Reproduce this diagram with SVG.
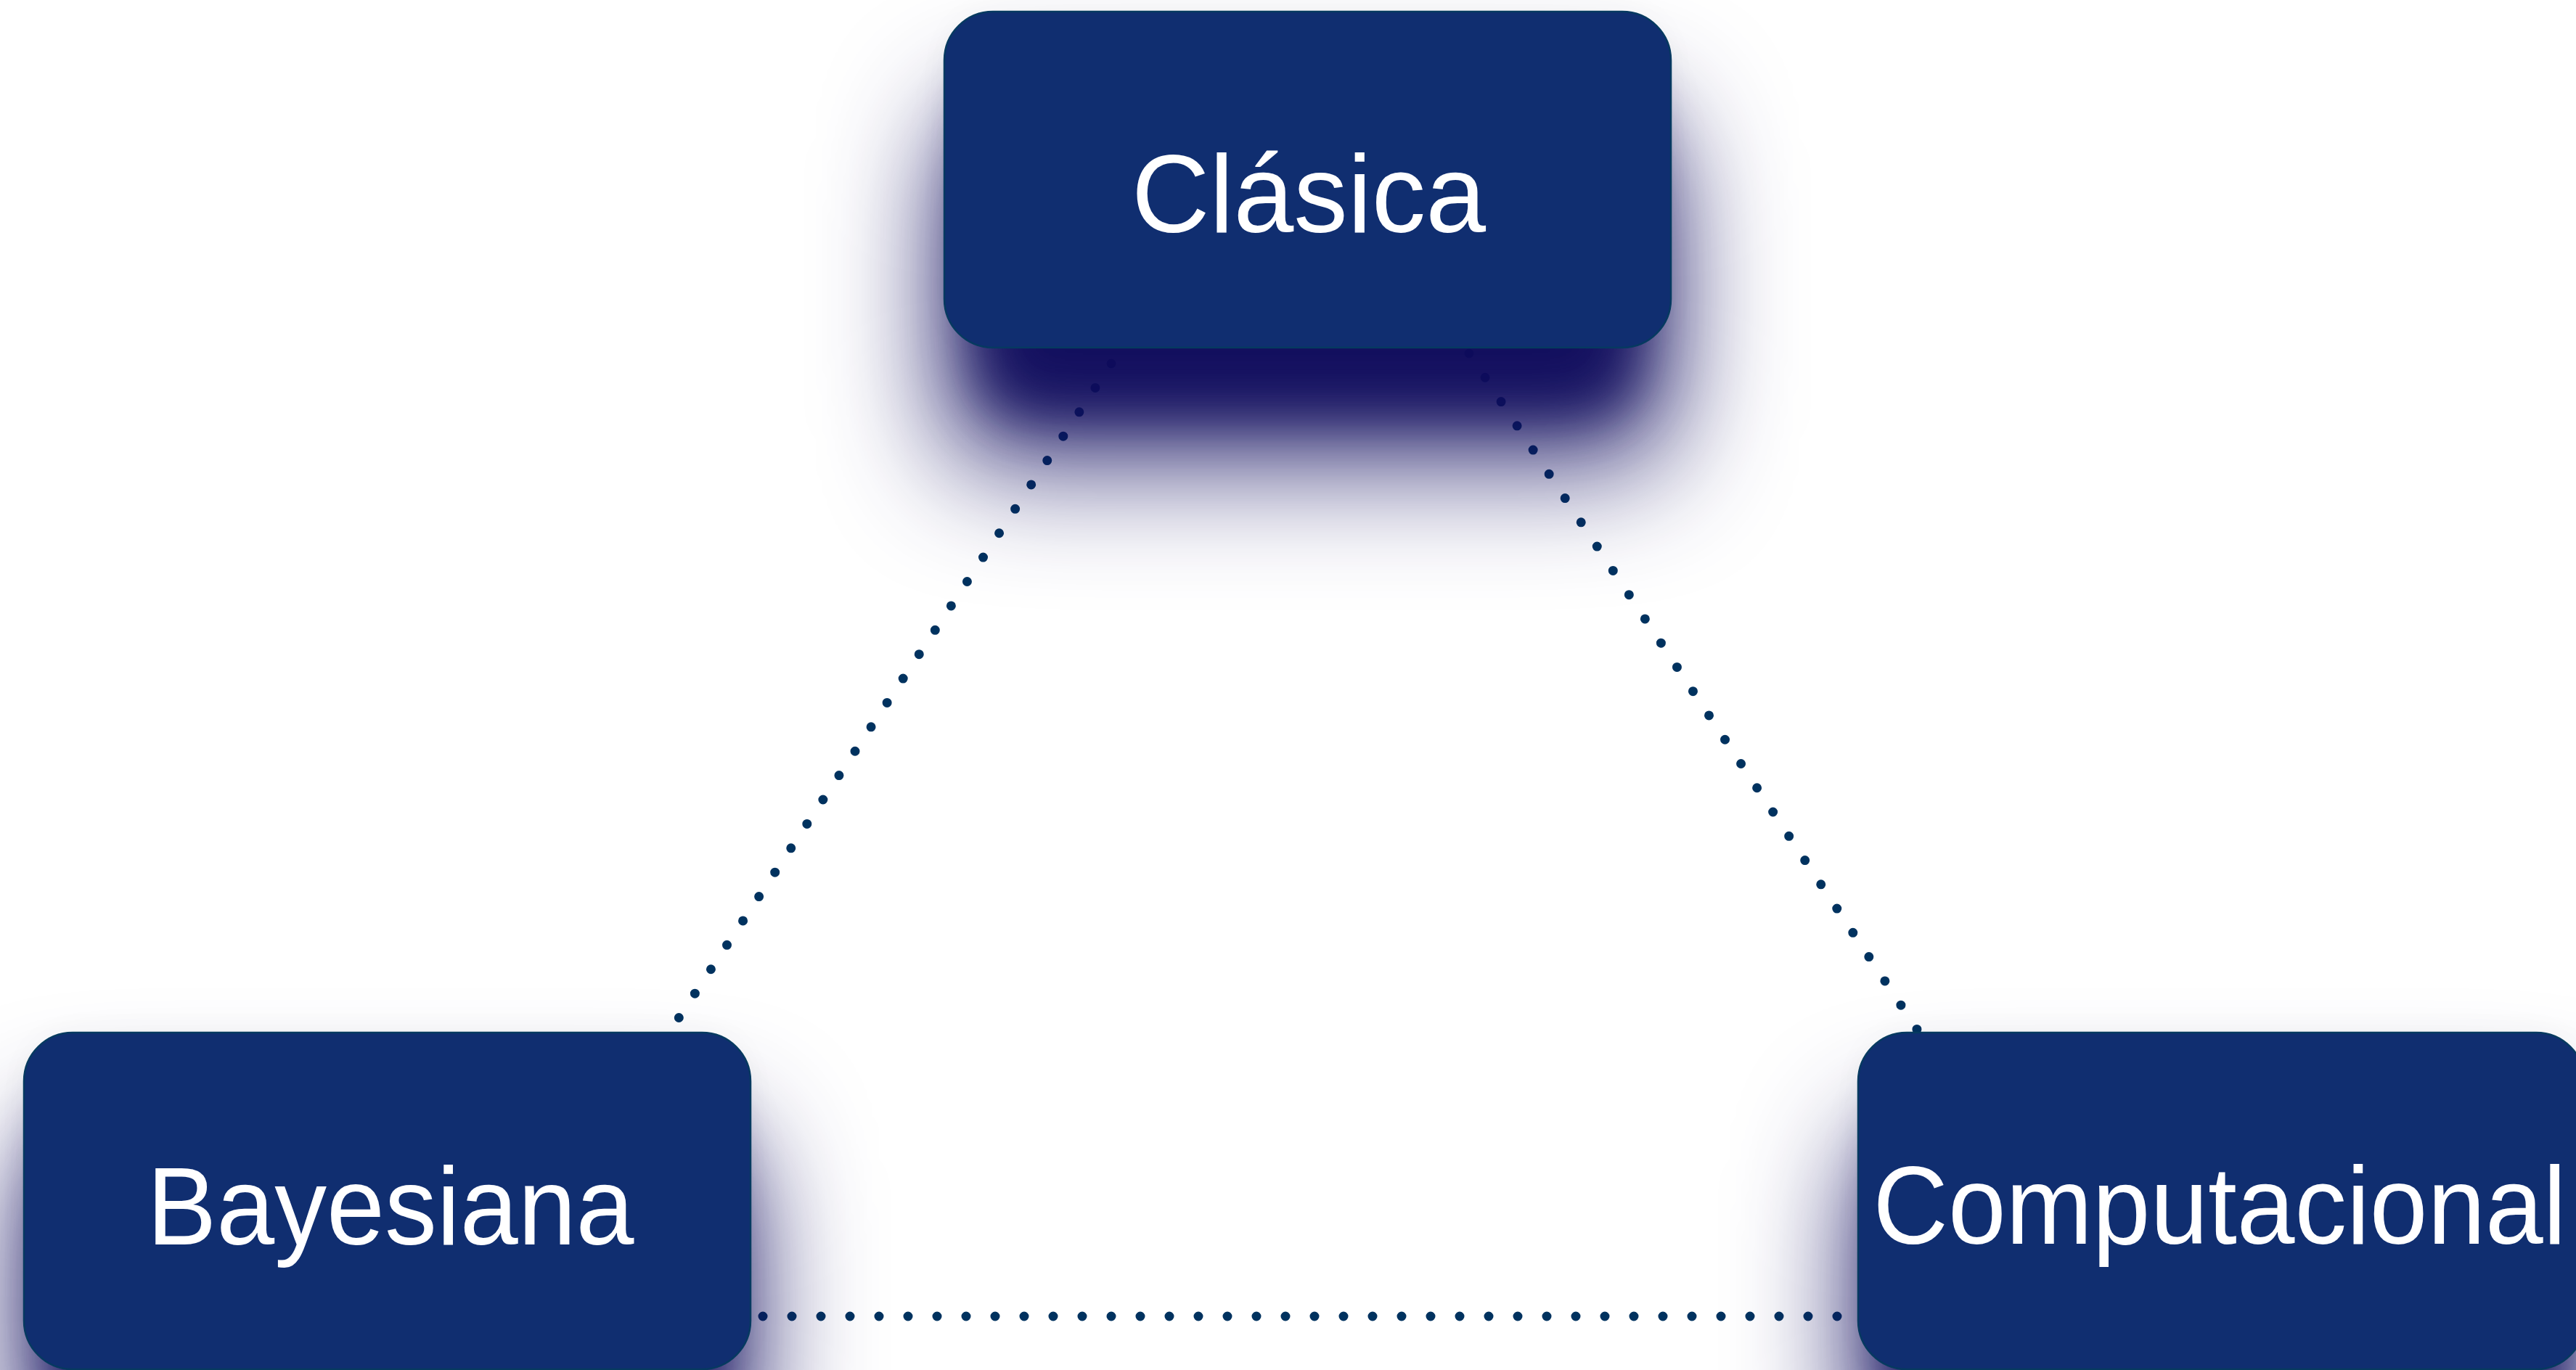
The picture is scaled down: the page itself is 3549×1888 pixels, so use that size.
<svg xmlns="http://www.w3.org/2000/svg" width="3549" height="1888" viewBox="0 0 3549 1888">
<style>
.box{fill:#102e70;stroke:#063a60;stroke-width:2.5;filter:url(#sh)}
.lbl{font-family:"Liberation Sans",Arial,sans-serif;font-size:152px;fill:#ffffff;text-anchor:middle}
.dot{fill:none;stroke:#00325f;stroke-width:13;stroke-linecap:round}
</style>
<defs>
<filter id="sh" x="-40%" y="-60%" width="180%" height="260%" color-interpolation-filters="sRGB">
<feGaussianBlur in="SourceAlpha" stdDeviation="80 88" result="b"/>
<feOffset in="b" dy="150" result="o"/>
<feFlood flood-color="#0e0b5c" flood-opacity="0.9" result="f"/>
<feComposite in="f" in2="o" operator="in" result="s"/>
<feMorphology in="SourceAlpha" operator="erode" radius="50 1" result="e"/>
<feGaussianBlur in="e" stdDeviation="40" result="eb"/>
<feOffset in="eb" dy="90" result="eo"/>
<feFlood flood-color="#0e0b5c" flood-opacity="0.85" result="f3"/>
<feComposite in="f3" in2="eo" operator="in" result="core"/>
<feGaussianBlur in="SourceAlpha" stdDeviation="25" result="a"/>
<feFlood flood-color="#000000" flood-opacity="0.04" result="f2"/>
<feComposite in="f2" in2="a" operator="in" result="amb"/>
<feMerge><feMergeNode in="amb"/><feMergeNode in="s"/><feMergeNode in="core"/><feMergeNode in="SourceGraphic"/></feMerge>
</filter>
</defs>
<rect width="3549" height="1888" fill="#ffffff"/>
<g id="connectors">
<line class="dot" x1="1531" y1="501" x2="935" y2="1403" stroke-dasharray="0 40.02"/>
<line class="dot" x1="2024" y1="487" x2="2642" y2="1420" stroke-dasharray="0 39.9"/>
<line class="dot" x1="1051" y1="1814" x2="2533" y2="1814" stroke-dasharray="0 40"/>
</g>
<g id="node-clasica">
<rect class="box" x="1301" y="16" width="1001" height="463" rx="67" ry="67"/>
<text class="lbl" x="1803" y="320" textLength="488" lengthAdjust="spacingAndGlyphs">Clásica</text>
</g>
<g id="node-bayesiana">
<rect class="box" x="33" y="1423" width="1001" height="464" rx="67" ry="67"/>
<text class="lbl" x="538" y="1715" textLength="671" lengthAdjust="spacingAndGlyphs">Bayesiana</text>
</g>
<g id="node-computacional">
<rect class="box" x="2560" y="1423" width="1001" height="464" rx="67" ry="67"/>
<text class="lbl" x="3058" y="1714" textLength="955" lengthAdjust="spacingAndGlyphs">Computacional</text>
</g>
</svg>
